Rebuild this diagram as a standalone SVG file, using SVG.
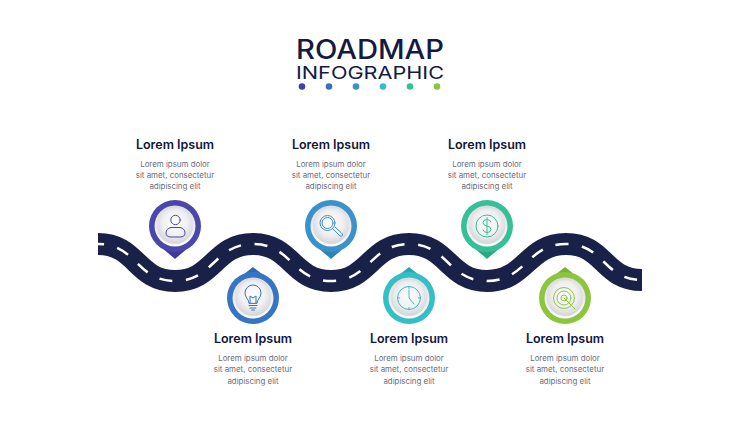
<svg xmlns="http://www.w3.org/2000/svg" width="740" height="423" viewBox="0 0 740 423">
<style>
.t{font-family:"Inter","Liberation Sans",sans-serif;fill:#141a42;text-anchor:middle}
.h{font-family:"Inter","Liberation Sans",sans-serif;font-size:12.5px;font-weight:600;fill:#10163a;text-anchor:middle}
.b{font-family:"Inter","Liberation Sans",sans-serif;font-size:7.900px;fill:#6a6d7c;text-anchor:middle}
.ic{fill:none;stroke-width:1;stroke-linecap:round;stroke-linejoin:round}
.road{fill:none;stroke:#1a2148;stroke-width:22}
.dash{fill:none;stroke:#fff;stroke-width:2.500;stroke-dasharray:13 13.500;stroke-dashoffset:7}
</style>
<defs>
<linearGradient id="rim" x1="0" y1="0" x2="0" y2="1"><stop offset="0" stop-color="#dcdce0"/><stop offset="1" stop-color="#fbfbfb"/></linearGradient>
<radialGradient id="disc" cx="0.5" cy="0.42" r="0.62"><stop offset="0" stop-color="#fdfdfd"/><stop offset="0.55" stop-color="#f0f0f2"/><stop offset="1" stop-color="#cfcfd3"/></radialGradient>
<path id="road" d="M98 244 C137 244 136 281 175 281 C214 281 214 244 253 244 C292 244 292 281 331 281 C370 281 370 244 409 244 C448 244 448 281 487 281 C526 281 527 244 566 244 C605 244 603 280 642 280"/>
<path id="tailDown" d="M-18 18 Q-8 26 0 33 Q8 26 18 18Z"/>
<path id="tailUp" d="M-18 -18 Q-8 -24 0 -31 Q8 -24 18 -18Z"/>
<g id="face"><circle r="20.500" fill="url(#rim)"/><circle r="18" fill="url(#disc)"/></g>
</defs>
<rect width="740" height="423" fill="#fff"/>
<g id="title">
<text class="t" x="370" y="58.500" font-size="26.500" font-weight="500" textLength="148" lengthAdjust="spacingAndGlyphs">ROADMAP</text>
<text class="t" x="370" y="78.500" font-size="17.500" font-weight="400" textLength="148" lengthAdjust="spacingAndGlyphs">INFOGRAPHIC</text>
<circle cx="302" cy="86.500" r="3.300" fill="#45409f"/>
<circle cx="329" cy="86.500" r="3.300" fill="#3a6fc0"/>
<circle cx="356" cy="86.500" r="3.300" fill="#3a90c8"/>
<circle cx="383" cy="86.500" r="3.300" fill="#35bccb"/>
<circle cx="410" cy="86.500" r="3.300" fill="#35c295"/>
<circle cx="437" cy="86.500" r="3.300" fill="#8cc63f"/>
</g>
<g id="connectors">
<use href="#road" class="road"/>
<use href="#road" class="dash"/>
</g>
<g id="node1">
<use href="#tailDown" x="175" y="226" fill="#3f3a9a"/>
<circle cx="175" cy="226" r="26" fill="#4a46ac"/>
<use href="#face" x="175" y="226"/>
<g class="ic" stroke="#4a46ac"><circle cx="175.500" cy="220" r="4.700"/><path d="M171 227.500 H180 Q185 228.500 185 233 Q185 237 180 237 H171 Q166 237 166 233 Q166 228.500 171 227.500Z"/></g>
<text class="h" x="175" y="149">Lorem Ipsum</text>
<text class="b" x="175" y="167">Lorem ipsum dolor</text><text class="b" x="175" y="178">sit amet, consectetur</text><text class="b" x="175" y="189">adipiscing elit</text>
</g>
<g id="node2">
<use href="#tailUp" x="253" y="298" fill="#2f68b5"/>
<circle cx="253" cy="298" r="26" fill="#3575c6"/>
<use href="#face" x="253" y="298"/>
<g class="ic" stroke="#3575c6"><path d="M249 303 C249 299 245 298 245 293 A8 8 0 0 1 261 293 C261 298 257 299 257 303Z"/><path d="M250 303 V296 L253 298 L256 296 V303M249 305.500 H257M250 308 H256M251.500 310 H254.500"/></g>
<text class="h" x="253" y="343">Lorem Ipsum</text>
<text class="b" x="253" y="361">Lorem ipsum dolor</text><text class="b" x="253" y="372">sit amet, consectetur</text><text class="b" x="253" y="384">adipiscing elit</text>
</g>
<g id="node3">
<use href="#tailDown" x="331" y="226" fill="#2f83b5"/>
<circle cx="331" cy="226" r="26" fill="#3a92cc"/>
<use href="#face" x="331" y="226"/>
<g class="ic" stroke="#3a92cc"><circle cx="327.500" cy="223" r="7.500"/><circle cx="327.500" cy="223" r="5.500"/><path d="M333 229 L337 233 L340 236 Q342 237 342.500 235 Q343 234 341 232.500 L335 227"/></g>
<text class="h" x="331" y="149">Lorem Ipsum</text>
<text class="b" x="331" y="167">Lorem ipsum dolor</text><text class="b" x="331" y="178">sit amet, consectetur</text><text class="b" x="331" y="189">adipiscing elit</text>
</g>
<g id="node4">
<use href="#tailUp" x="409" y="298" fill="#2aa8ae"/>
<circle cx="409" cy="298" r="26" fill="#34bfc7"/>
<use href="#face" x="409" y="298"/>
<g class="ic" stroke="#34bfc7"><circle cx="409" cy="298" r="11.500"/><path d="M409 290 V298 L414 304M409 286.500 V288.500M409 307.500 V309.500M397.500 298 H399.500M418.500 298 H420.500"/></g>
<text class="h" x="409" y="343">Lorem Ipsum</text>
<text class="b" x="409" y="361">Lorem ipsum dolor</text><text class="b" x="409" y="372">sit amet, consectetur</text><text class="b" x="409" y="384">adipiscing elit</text>
</g>
<g id="node5">
<use href="#tailDown" x="487" y="226" fill="#2ca886"/>
<circle cx="487" cy="226" r="26" fill="#36c097"/>
<use href="#face" x="487" y="226"/>
<g class="ic" stroke="#36c097"><circle cx="487" cy="226" r="11"/><path d="M491 222 Q490 219.500 487 219.500 Q483 219.500 483 222.500 Q483 225.500 487 226 Q491 226.500 491 229.500 Q491 232.500 487 232.500 Q484 232.500 483 230M487 217.500 V234.500"/></g>
<text class="h" x="487" y="149">Lorem Ipsum</text>
<text class="b" x="487" y="167">Lorem ipsum dolor</text><text class="b" x="487" y="178">sit amet, consectetur</text><text class="b" x="487" y="189">adipiscing elit</text>
</g>
<g id="node6">
<use href="#tailUp" x="565" y="298" fill="#7ab033"/>
<circle cx="565" cy="298" r="26" fill="#8cc63f"/>
<use href="#face" x="565" y="298"/>
<g class="ic" stroke="#8cc63f"><circle cx="564" cy="298" r="10.500"/><circle cx="564" cy="298" r="7"/><circle cx="564" cy="298" r="3"/><path d="M564 298 L575 309"/></g>
<text class="h" x="565" y="343">Lorem Ipsum</text>
<text class="b" x="565" y="361">Lorem ipsum dolor</text><text class="b" x="565" y="372">sit amet, consectetur</text><text class="b" x="565" y="384">adipiscing elit</text>
</g>
</svg>
